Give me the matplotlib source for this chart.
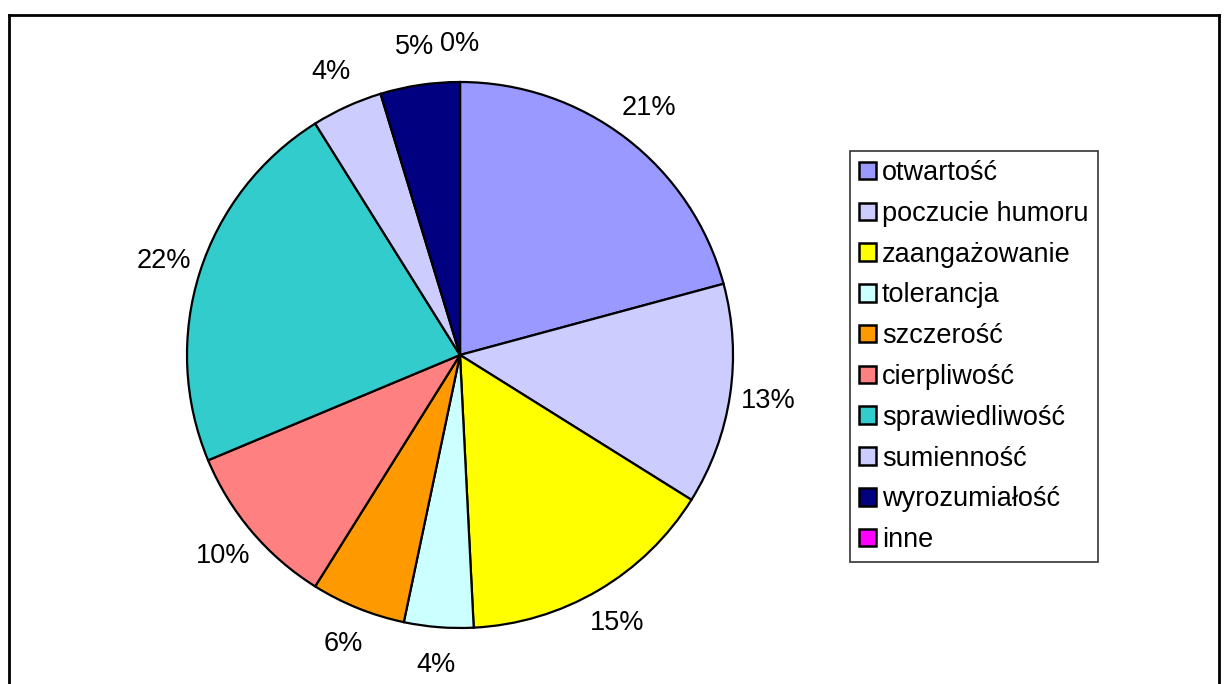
import matplotlib.pyplot as plt
from matplotlib.patches import Patch
from matplotlib.lines import Line2D

plt.rcParams['font.family'] = ['Liberation Sans', 'DejaVu Sans']

# data (shares in %, labels show rounded values)
labels = ['otwartość', 'poczucie humoru', 'zaangażowanie', 'tolerancja',
          'szczerość', 'cierpliwość', 'sprawiedliwość', 'sumienność',
          'wyrozumiałość', 'inne']
values = [20.8, 13.1, 15.3, 4.1, 5.6, 9.8, 22.4, 4.2, 4.7, 0.0]
colors = ['#9999FF', '#CCCCFF', '#FFFF00', '#CCFFFF', '#FF9900',
          '#FF8080', '#33CCCC', '#CCCCFF', '#000080', '#FF00FF']

W, H = 1225, 684
fig = plt.figure(figsize=(W / 100, H / 100), dpi=100)

# outer frame (bottom edge is cut off in the original)
fx0, fx1, fy = 8.5 / W, 1218.5 / W, 1 - 14.5 / H
for xs, ys in [([fx0, fx0], [fy, -0.1]), ([fx0, fx1], [fy, fy]), ([fx1, fx1], [fy, -0.1])]:
    fig.add_artist(Line2D(xs, ys, color='black', lw=2, transform=fig.transFigure))

# pie axes: centre (460, 355), radius 273 px
cx, cy, r = 460, 355, 273
ax = fig.add_axes([(cx - r) / W, 1 - (cy + r) / H, 2 * r / W, 2 * r / H])
wedges, texts = ax.pie(values, colors=colors, startangle=90, counterclock=False,
                       labels=[f'{round(v)}%' for v in values], labeldistance=1.14,
                       wedgeprops=dict(edgecolor='black', linewidth=1.6),
                       textprops=dict(fontsize=19.5, ha='center', va='center'))
for t in texts:
    t.set_horizontalalignment('center')
ax.set_xlim(-1, 1)
ax.set_ylim(-1, 1)
ax.set_aspect('equal')
ax.axis('off')

handles = [Patch(facecolor=c, edgecolor='black', linewidth=1.8) for c in colors]
leg = fig.legend(handles, labels, loc='upper left',
                 bbox_to_anchor=(850 / W, 1 - 151 / H), fontsize=19.5,
                 frameon=True, fancybox=False, edgecolor='black',
                 handlelength=0.62, handleheight=0.62, handletextpad=0.22,
                 labelspacing=0.545, borderpad=0.34, borderaxespad=0)
leg.get_frame().set_linewidth(1.2)

fig.savefig('out.png', dpi=100)
